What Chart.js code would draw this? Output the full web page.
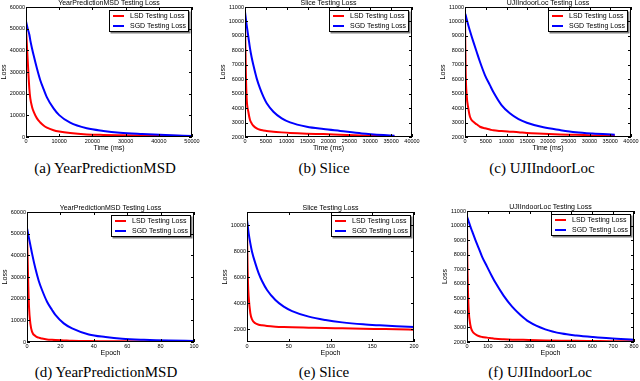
<!DOCTYPE html>
<html>
<head>
<meta charset="utf-8">
<script src="https://cdn.jsdelivr.net/npm/chart.js@4.4.0/dist/chart.umd.min.js"></script>
<style>
  body { margin: 0; width: 640px; height: 381px; overflow: hidden; background: #fff; position: relative; }
  canvas { position: absolute; }
  .cap { position: absolute; font-family: 'Liberation Serif', 'Times New Roman', serif; font-size: 15px; line-height: 15px; white-space: nowrap; transform: translateX(-50%); color: #000; }
</style>
</head>
<body>
<canvas id="chartA"></canvas>
<canvas id="chartB"></canvas>
<canvas id="chartC"></canvas>
<canvas id="chartD"></canvas>
<canvas id="chartE"></canvas>
<canvas id="chartF"></canvas>
<div class="cap" style="left:105px;top:161px">(a) YearPredictionMSD</div>
<div class="cap" style="left:324px;top:161px">(b) Slice</div>
<div class="cap" style="left:542px;top:161px">(c) UJIIndoorLoc</div>
<div class="cap" style="left:106px;top:365px">(d) YearPredictionMSD</div>
<div class="cap" style="left:324px;top:365px">(e) Slice</div>
<div class="cap" style="left:540px;top:365px">(f) UJIIndoorLoc</div>
<script>
// series names
const seriesNames = ['LSD Testing Loss', 'SGD Testing Loss'];
const seriesColors = ['#ff0000', '#0000ff'];

// (a) YearPredictionMSD, loss vs time (ms)
const aTime = [0, 500, 1000, 1300, 1800, 2300, 3300, 4300, 5300, 6300, 8300, 10000, 13300, 18300, 23300, 28300, 35000, 42000, 50000];
const aLsd  = [50000, 36000, 22400, 17800, 14000, 11700, 8600, 6700, 5300, 4300, 3100, 2500, 1800, 1200, 950, 800, 650, 550, 400];
const aSgd  = [53400, 50000, 47300, 44600, 41000, 37700, 31600, 26200, 22100, 18300, 13200, 10100, 6600, 4000, 2800, 2000, 1400, 900, 500];

// (b) Slice, loss vs time (ms)
const bTime = [0, 200, 400, 800, 1200, 1600, 2000, 2800, 3600, 4400, 5200, 6800, 8800, 10800, 14800, 18800, 22800, 28000, 35800];
const bLsd  = [10000, 6500, 4670, 3750, 3180, 2940, 2780, 2600, 2500, 2450, 2410, 2370, 2320, 2280, 2230, 2200, 2160, 2110, 2060];
const bSgd  = [10660, 10200, 9740, 8940, 8130, 7500, 6980, 6060, 5360, 4790, 4330, 3750, 3290, 3010, 2710, 2550, 2420, 2250, 2080];

// (c) UJIIndoorLoc, loss vs time (ms)
const cTime = [0, 160, 400, 800, 1200, 2000, 2800, 3600, 4800, 6000, 6800, 8800, 10800, 12900, 14900, 18900, 22900, 26700, 30700, 36100];
const cLsd  = [10200, 6520, 4900, 3980, 3400, 3060, 2880, 2710, 2600, 2520, 2460, 2410, 2370, 2330, 2280, 2230, 2180, 2150, 2110, 2070];
const cSgd  = [10550, 10450, 10150, 9740, 9340, 8600, 7900, 7210, 6290, 5590, 5130, 4210, 3640, 3240, 2990, 2670, 2480, 2330, 2240, 2160];

// (d) YearPredictionMSD, loss vs epoch
const dEpoch = [0, 0.4, 0.8, 1.2, 2, 3, 5, 7, 9, 12, 15, 17, 22, 27, 37, 47, 57, 70, 85, 100];
const dLsd   = [50200, 37800, 25500, 16300, 8600, 4800, 2800, 2000, 1600, 1200, 1000, 900, 750, 600, 450, 380, 320, 280, 250, 220];
const dSgd   = [52500, 51000, 49400, 47800, 44800, 40900, 34000, 28300, 24000, 18600, 14800, 12500, 8600, 6300, 3500, 2300, 1500, 1000, 650, 500];

// (e) Slice, loss vs epoch
const eEpoch = [0, 0.4, 1.2, 2, 4, 6, 10, 14, 18, 24, 34, 44, 54, 74, 94, 114, 139, 159, 179, 200];
const eLsd   = [10130, 7820, 5510, 4490, 3210, 2740, 2440, 2330, 2280, 2230, 2180, 2150, 2130, 2100, 2070, 2050, 2020, 2000, 1980, 1950];
const eSgd   = [10380, 10180, 9770, 9360, 8590, 7950, 7050, 6280, 5690, 5000, 4230, 3720, 3380, 2950, 2690, 2510, 2360, 2280, 2210, 2150];

// (f) UJIIndoorLoc, loss vs epoch
const fEpoch = [0, 1.6, 5, 8, 16, 24, 40, 56, 72, 96, 120, 136, 176, 216, 256, 296, 375, 455, 524, 604, 683, 800];
const fLsd   = [10400, 7640, 5350, 4200, 3170, 2780, 2530, 2410, 2350, 2300, 2260, 2230, 2190, 2160, 2150, 2140, 2110, 2090, 2080, 2070, 2060, 2050];
const fSgd   = [10620, 10550, 10410, 10280, 9940, 9630, 9020, 8450, 7870, 7180, 6500, 6080, 5170, 4430, 3860, 3400, 2870, 2580, 2450, 2340, 2250, 2160];

// tick values
const lossTicksBig   = [0, 10000, 20000, 30000, 40000, 50000, 60000];
const lossTicksSmall = [2000, 3000, 4000, 5000, 6000, 7000, 8000, 9000, 10000, 11000];
const lossTicksSlice = [2000, 4000, 6000, 8000, 10000];
const timeTicks50k   = [0, 10000, 20000, 30000, 40000, 50000];
const timeTicks40k   = [0, 5000, 10000, 15000, 20000, 25000, 30000, 35000, 40000];
const epochTicks100  = [0, 20, 40, 60, 80, 100];
const epochTicks200  = [0, 50, 100, 150, 200];
const epochTicks800  = [0, 100, 200, 300, 400, 500, 600, 700, 800];

Chart.defaults.font.family = "'Liberation Sans', Arial, sans-serif";
Chart.defaults.color = '#000';

// matplotlib style frame, inward ticks and legend box
const mplAxes = {
  id: 'mplAxes',
  afterDatasetsDraw(chart) {
    const { ctx, chartArea: a, scales: { x, y } } = chart;
    ctx.save();
    ctx.strokeStyle = '#000';
    ctx.lineWidth = 1;
    ctx.strokeRect(a.left + 0.5, a.top + 0.5, a.width - 1, a.height - 1);
    ctx.beginPath();
    x.ticks.forEach(t => {
      const px = Math.round(x.getPixelForValue(t.value)) + 0.5;
      ctx.moveTo(px, a.bottom); ctx.lineTo(px, a.bottom - 3);
      ctx.moveTo(px, a.top); ctx.lineTo(px, a.top + 3);
    });
    y.ticks.forEach(t => {
      const py = Math.round(y.getPixelForValue(t.value)) + 0.5;
      ctx.moveTo(a.left, py); ctx.lineTo(a.left + 3, py);
      ctx.moveTo(a.right, py); ctx.lineTo(a.right - 3, py);
    });
    ctx.stroke();

    // legend
    const w = 80, h = 22;
    const bx = Math.round(a.right - 3 - w), by = Math.round(a.top + 3);
    ctx.fillStyle = 'rgba(0,0,0,0.5)';
    ctx.fillRect(bx + 1.5, by + 1.5, w, h);
    ctx.fillStyle = '#fff';
    ctx.fillRect(bx, by, w, h);
    ctx.strokeRect(bx + 0.5, by + 0.5, w - 1, h - 1);
    ctx.font = "7px 'Liberation Sans', Arial, sans-serif";
    ctx.textBaseline = 'middle';
    ctx.textAlign = 'left';
    chart.data.datasets.forEach((ds, i) => {
      const ly = by + 6 + i * 10;
      ctx.strokeStyle = ds.borderColor;
      ctx.lineWidth = 2;
      ctx.beginPath();
      ctx.moveTo(bx + 4, ly); ctx.lineTo(bx + 15, ly);
      ctx.stroke();
      ctx.fillStyle = '#000';
      ctx.fillText(ds.label, bx + 21, ly);
    });
    ctx.restore();
  }
};

function makePanel(id, box, title, xLabel, xs, lsd, sgd, xr, xTicks, yr, yTicks) {
  const cv = document.getElementById(id);
  cv.width = box.r - box.l + 38;
  cv.height = box.b - box.t + 23;
  cv.style.left = (box.l - 26) + 'px';
  cv.style.top = (box.t - 8) + 'px';
  const series = [lsd, sgd];
  return new Chart(cv, {
    type: 'line',
    data: {
      datasets: series.map((vals, i) => ({
        label: seriesNames[i],
        data: xs.map((x, j) => ({ x: x, y: vals[j] })),
        borderColor: seriesColors[i],
        backgroundColor: seriesColors[i],
        borderWidth: 2,
        pointRadius: 0,
        cubicInterpolationMode: 'monotone',
        order: 1 - i
      }))
    },
    options: {
      responsive: false,
      animation: false,
      events: [],
      layout: { padding: { left: 0, top: 0, right: 12, bottom: 0 } },
      plugins: {
        legend: { display: false },
        tooltip: { enabled: false },
        title: {
          display: true, text: title, fullSize: false, padding: 0, color: '#000',
          font: { size: 7, weight: 'normal', lineHeight: '8px' }
        }
      },
      scales: {
        x: {
          type: 'linear', min: xr[0], max: xr[1],
          afterBuildTicks: ax => { ax.ticks = xTicks.map(v => ({ value: v })); },
          afterFit: ax => { ax.height = 15; ax.paddingLeft = 0; ax.paddingRight = 0; },
          grid: { display: false, drawTicks: false },
          border: { display: false },
          ticks: { padding: 1, maxRotation: 0, autoSkip: false, font: { size: 5.5 }, callback: v => String(v) },
          title: { display: true, text: xLabel, padding: 0, font: { size: 7, lineHeight: '8px' } }
        },
        y: {
          type: 'linear', min: yr[0], max: yr[1],
          afterBuildTicks: ax => { ax.ticks = yTicks.map(v => ({ value: v })); },
          afterFit: ax => { ax.width = 26; ax.paddingTop = 0; ax.paddingBottom = 0; },
          grid: { display: false, drawTicks: false },
          border: { display: false },
          ticks: { padding: 1, autoSkip: false, font: { size: 5.5 }, callback: v => String(v) },
          title: { display: true, text: 'Loss', padding: 0, font: { size: 7, lineHeight: '8px' } }
        }
      }
    },
    plugins: [mplAxes]
  });
}

makePanel('chartA', { l: 26, r: 192, t: 7, b: 137 }, 'YearPredictionMSD Testing Loss', 'Time (ms)',
  aTime, aLsd, aSgd, [0, 50000], timeTicks50k, [0, 60000], lossTicksBig);
makePanel('chartB', { l: 245, r: 412, t: 7, b: 137 }, 'Slice Testing Loss', 'Time (ms)',
  bTime, bLsd, bSgd, [0, 40000], timeTicks40k, [2000, 11000], lossTicksSmall);
makePanel('chartC', { l: 465, r: 631, t: 7, b: 137 }, 'UJIIndoorLoc Testing Loss', 'Time (ms)',
  cTime, cLsd, cSgd, [0, 40000], timeTicks40k, [2000, 11000], lossTicksSmall);
makePanel('chartD', { l: 27, r: 194, t: 212, b: 342 }, 'YearPredictionMSD Testing Loss', 'Epoch',
  dEpoch, dLsd, dSgd, [0, 100], epochTicks100, [0, 60000], lossTicksBig);
makePanel('chartE', { l: 247, r: 414, t: 212, b: 342 }, 'Slice Testing Loss', 'Epoch',
  eEpoch, eLsd, eSgd, [0, 200], epochTicks200, [1000, 11000], lossTicksSlice);
makePanel('chartF', { l: 467, r: 634, t: 211, b: 342 }, 'UJIIndoorLoc Testing Loss', 'Epoch',
  fEpoch, fLsd, fSgd, [0, 800], epochTicks800, [2000, 11000], lossTicksSmall);
</script>
</body>
</html>
